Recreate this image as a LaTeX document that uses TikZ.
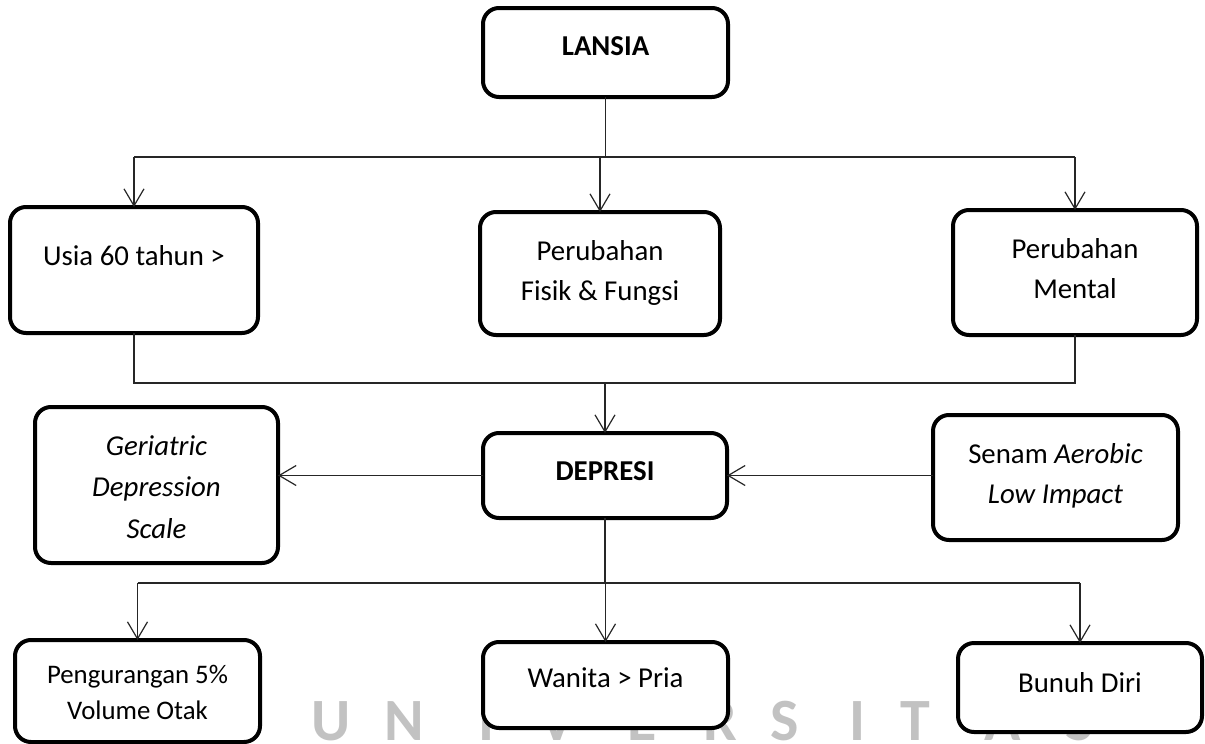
\documentclass[tikz,border=0pt]{standalone}
\usepackage{fontspec}
\setmainfont{Carlito}
\usepackage{tikz}
\usetikzlibrary{arrows.meta}

\begin{document}
\begin{tikzpicture}
    [
        x=0.5pt, y=-0.5pt,
        box_node/.style={rectangle, rounded corners=8pt, draw=black, fill=white, line width=2pt, inner sep=0pt, outer sep=0pt, align=flush center, anchor=north, font=\fontsize{14.4}{20}\selectfont},
        link/.style={line width=0.6pt, color=black!85},
        arrow_link/.style={-{Straight Barb[length=8.5pt, width=10pt]}, line width=0.6pt, color=black!85},
        mark_text/.style={anchor=base, text=black!24, font=\fontsize{30}{30}\bfseries},
    ]
        \useasboundingbox (0,0) rectangle (1205,744) ;
        % watermark letters behind the boxes
        \foreach \wx/\wl in {331/U, 404/N, 486/I, 557/V, 642/E, 720/R, 785/S, 857/I, 915/T, 1003/A, 1080/S}
            \node[mark_text] (mark-\wx) at (\wx,740) {\wl} ;

        \node[box_node, text width=122.5pt, text height=23.5pt, text depth=21pt] (lansia) at (605.5,8) {\textbf{LANSIA}} ;
        \node[box_node, text width=124pt, text height=29pt, text depth=34pt] (usia) at (134,207) {Usia 60 tahun >} ;
        \node[box_node, text width=120pt, text height=24pt, text depth=37.5pt] (fisik) at (600,212) {Perubahan\\Fisik \& Fungsi} ;
        \node[box_node, text width=122pt, text height=24pt, text depth=38.5pt] (mental) at (1075,210) {Perubahan\\Mental} ;
        \node[box_node, text width=122pt, text height=23.5pt, text depth=19pt] (depresi) at (605,433) {\textbf{DEPRESI}} ;
        \node[box_node, text width=121.5pt, text height=24pt, text depth=54pt, font=\fontsize{14.4}{20.75}\selectfont] (gds) at (156.5,407) {\textit{Geriatric}\\\textit{Depression}\\\textit{Scale}} ;
        \node[box_node, text width=122.5pt, text height=24pt, text depth=38.5pt] (senam) at (1055.5,415) {Senam \textit{Aerobic}\\\textit{Low Impact}} ;
        \node[box_node, text width=122.5pt, text height=21.5pt, text depth=29.5pt, font=\fontsize{13.4}{18}\selectfont] (kurang) at (137.5,640) {Pengurangan 5\%\\Volume Otak} ;
        \node[box_node, text width=122.5pt, text height=22.5pt, text depth=20.5pt] (wanita) at (605.5,642) {Wanita > Pria} ;
        \node[box_node, text width=122pt, text height=24.5pt, text depth=20pt] (bunuh) at (1080,643) {Bunuh Diri} ;

        \coordinate (top_bus) at (600,157) ;
        \coordinate (mid_bus) at (600,383) ;
        \coordinate (low_bus) at (605,583) ;

        % from LANSIA to the three groups
        \draw[link] (lansia) -- (lansia |- top_bus) ;
        \draw[link] (usia.north |- top_bus) -- (mental.north |- top_bus) ;
        \draw[arrow_link] (usia.north |- top_bus) -- (usia) ;
        \draw[arrow_link] (fisik.north |- top_bus) -- (fisik) ;
        \draw[arrow_link] (mental.north |- top_bus) -- (mental) ;

        % into DEPRESI
        \draw[link] (usia) -- (usia |- mid_bus) -- (mental |- mid_bus) -- (mental) ;
        \draw[arrow_link] (depresi |- mid_bus) -- (depresi) ;
        \draw[arrow_link] (depresi) -- (depresi -| gds.east) ;
        \draw[arrow_link] (depresi -| senam.west) -- (depresi) ;

        % out of DEPRESI
        \draw[link] (depresi) -- (depresi |- low_bus) ;
        \draw[link] (kurang |- low_bus) -- (bunuh |- low_bus) ;
        \draw[arrow_link] (kurang |- low_bus) -- (kurang) ;
        \draw[arrow_link] (wanita |- low_bus) -- (wanita) ;
        \draw[arrow_link] (bunuh |- low_bus) -- (bunuh) ;
    \end{tikzpicture}
\end{document}
